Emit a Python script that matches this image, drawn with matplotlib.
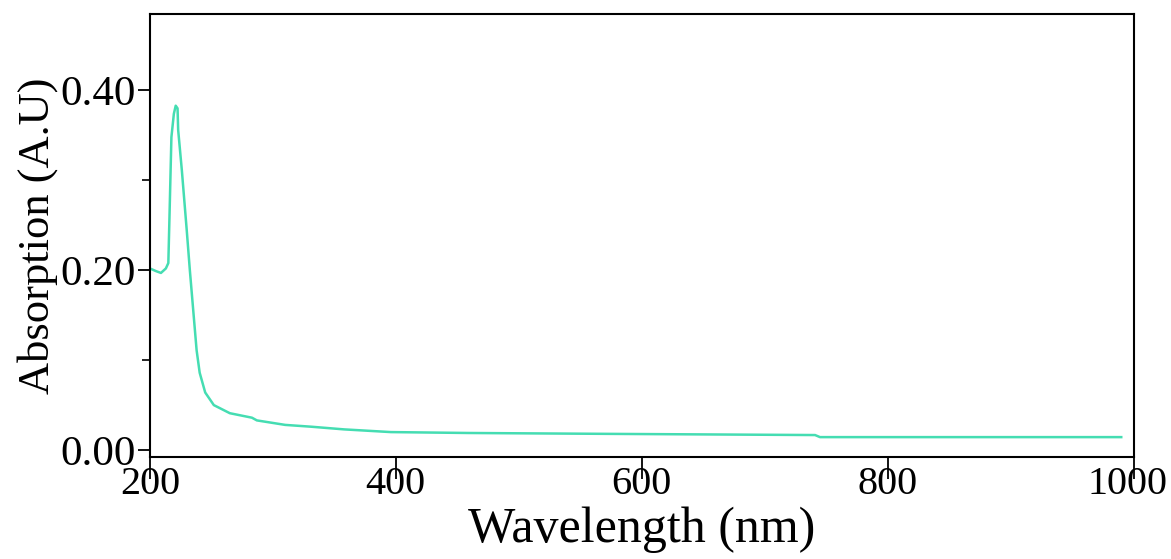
"""UV-Vis absorption spectrum, 200-1000 nm."""
import matplotlib
matplotlib.use("Agg")
import matplotlib.pyplot as plt
import matplotlib.transforms as mtransforms
from matplotlib.ticker import MultipleLocator

# values
wavelength = [200, 205, 209, 213, 215, 216, 217.5, 219.5, 221, 222.5, 223, 226,
              230, 232.5, 238, 240.5, 245, 252, 265, 283, 287, 310, 331, 358,
              396, 459, 575, 741, 745, 990]
absorption = [0.202, 0.199, 0.197, 0.202, 0.208, 0.263, 0.348, 0.374, 0.383,
              0.380, 0.356, 0.311, 0.244, 0.200, 0.111, 0.086, 0.064, 0.050,
              0.041, 0.036, 0.033, 0.028, 0.026, 0.023, 0.020, 0.019, 0.018,
              0.0167, 0.0144, 0.0144]
x_ticks = [200, 400, 600, 800, 1000]
y_ticks = [0.00, 0.20, 0.40]
y_tick_labels = ["0.00", "0.20", "0.40"]

plt.rcParams["font.family"] = ["Liberation Serif", "DejaVu Serif"]

fig = plt.figure(figsize=(11.71, 5.59), dpi=100)
ax = fig.add_axes([0.128, 0.182, 0.840, 0.793])
ax.plot(wavelength, absorption, color="#45ddb2", lw=1.8)

ax.set_xlim(200, 1000)
ax.set_ylim(-0.008, 0.485)
ax.set_xticks(x_ticks)
ax.set_xticklabels([str(t) for t in x_ticks])
ax.set_yticks(y_ticks)
ax.set_yticklabels(y_tick_labels)
ax.yaxis.set_minor_locator(MultipleLocator(0.1))

ax.tick_params(axis="x", which="major", direction="out", length=16, width=1.3,
               pad=-10, labelsize=29)
ax.tick_params(axis="y", which="major", direction="out", length=9, width=1.3,
               pad=1, labelsize=31)
ax.tick_params(axis="y", which="minor", direction="out", length=6, width=1.2)
for s in ax.spines.values():
    s.set_linewidth(1.5)

# nudge the last x label inward so it stays inside the figure
last = ax.get_xticklabels()[-1]
last.set_transform(last.get_transform()
                   + mtransforms.ScaledTranslation(-6 / 100, 0, fig.dpi_scale_trans))

ax.set_xlabel("Wavelength (nm)", fontsize=36, labelpad=3)
ax.set_ylabel("Absorption (A.U)", fontsize=32, labelpad=2)

fig.savefig("out.png", dpi=100)
